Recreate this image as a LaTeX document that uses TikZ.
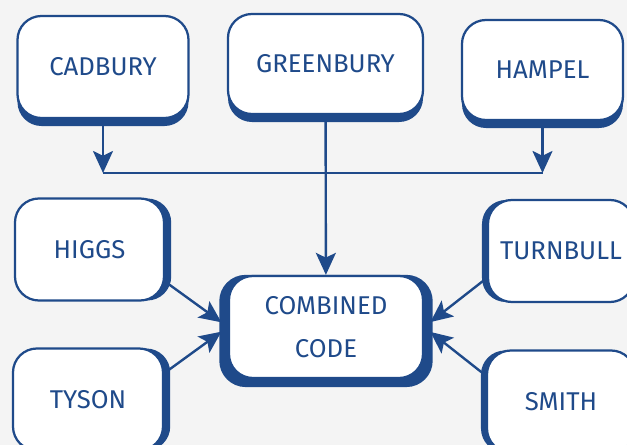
\documentclass[tikz,border=0pt]{standalone}
\usepackage{fontspec}
\setmainfont{Fira Sans}
\usetikzlibrary{arrows.meta,shadows}
\definecolor{cblue}{RGB}{31,74,138}
\definecolor{bgg}{RGB}{244,244,244}
\tikzset{bx/.append style={draw=cblue, line width=1.6pt, fill=white, rounded corners=0.6cm, minimum height=2.55cm, inner sep=0pt, text=cblue, align=center, font=\fontsize{18.3}{30.6}\selectfont}}
\tikzset{sd/.append style={drop shadow={shadow xshift=0cm, shadow yshift=-0.2cm, fill=cblue, opacity=1}}}
\tikzset{sr/.append style={drop shadow={shadow xshift=0.18cm, shadow yshift=0cm, fill=cblue, opacity=1}}}
\tikzset{sl/.append style={drop shadow={shadow xshift=-0.15cm, shadow yshift=0cm, fill=cblue, opacity=1}}}
\tikzset{sa/.append style={general shadow={shadow scale=1.1, shadow yshift=-0.09cm, fill=cblue}}}
\tikzset{arr/.append style={draw=cblue, line width=1.7pt, -{Stealth[length=0.55cm, width=0.5cm, inset=0.12cm]}}}
\tikzset{ln/.append style={draw=cblue, line width=1.7pt}}

\begin{document}
\begin{tikzpicture}[x=0.025cm, y=-0.025cm]
                \useasboundingbox[fill=bgg] (0,0) rectangle (627,445);
                \clip (0,0) rectangle (627,445);
                % sources
                \node[bx,sd,minimum width=4.275cm] (cad) at (103,67) {CADBURY};
                \node[bx,sd,minimum width=4.875cm,minimum height=2.5cm] (gre) at (325.5,64) {GREENBURY};
                \node[bx,sd,minimum width=4.025cm,minimum height=2.5cm] (ham) at (542.5,70) {HAMPEL};
                \node[bx,sr,minimum width=3.725cm] (hig) at (89.5,249.5) {HIGGS};
                \node[bx,sr,minimum width=3.75cm] (tys) at (88,399.5) {TYSON};
                \node[bx,sl,minimum width=3.65cm] (tur) at (561,251) {TURNBULL};
                \node[bx,sl,minimum width=3.7cm] (smi) at (561,401.5) {SMITH};
                \node[bx,sa,minimum width=4.85cm] (com) at (326,327) {COMBINED\\CODE};
                \coordinate (jl) at (103,173);
                \coordinate (jr) at (542.5,173);
                \path (cad) edge[arr] (jl);
                \path (ham) edge[arr] (jr);
                \path (jl) edge[ln] (jr);
                \path (gre) edge[arr] (com);
                \path (hig.-23) edge[arr,shorten >=0.2cm] (com.west);
                \path (tys.19) edge[arr,shorten >=0.2cm] (com.west);
                \path (tur.200) edge[arr,shorten >=0.2cm] (com.east);
                \path (smi.161) edge[arr,shorten >=0.2cm] (com.east);
            \end{tikzpicture}
\end{document}
